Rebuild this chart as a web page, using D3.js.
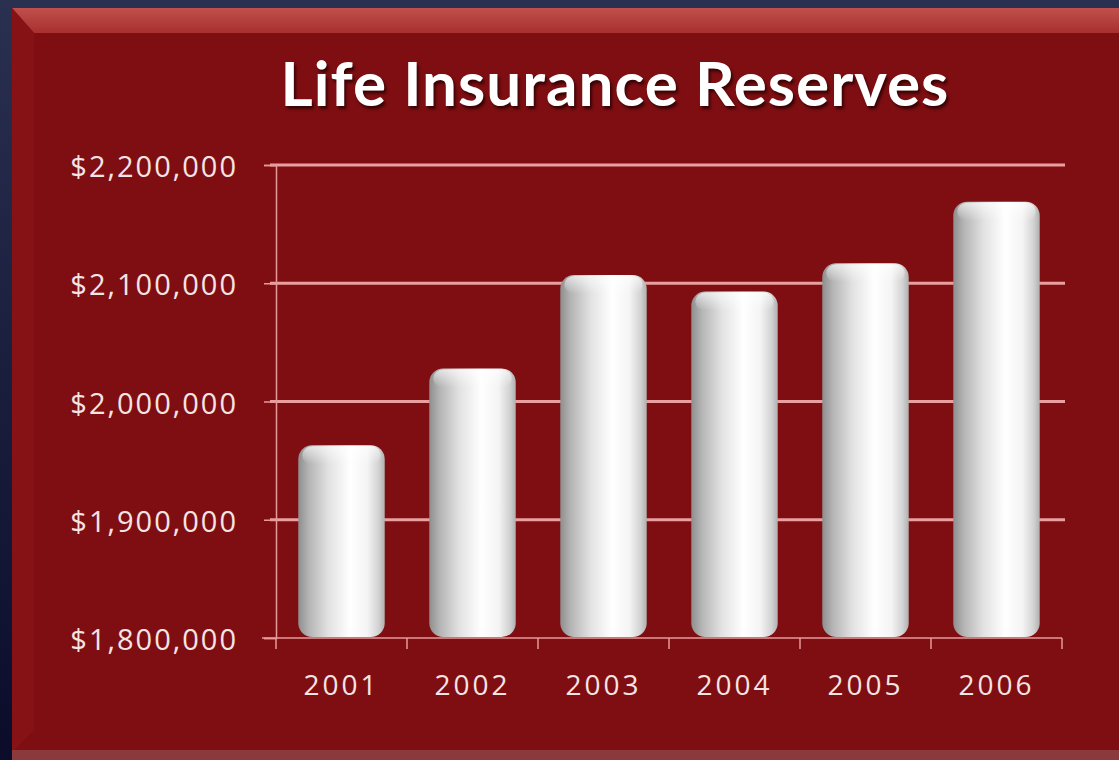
<!DOCTYPE html>
<html><head><meta charset="utf-8">
<script src="https://cdn.jsdelivr.net/npm/d3@7"></script>
<style>html,body{margin:0;padding:0;background:#1b2140;overflow:hidden}</style>
</head><body>
<svg id="c" width="1119" height="760"></svg>
<script>
const title = "Life Insurance Reserves";
const years = ["2001","2002","2003","2004","2005","2006"];
const reserves = [1963000, 2028000, 2107000, 2093000, 2117000, 2169000];
const yTicks = [1800000, 1900000, 2000000, 2100000, 2200000];

const svg = d3.select("#c");
const W = 1119, H = 760;
const defs = svg.append("defs");

// background
const bg = defs.append("linearGradient").attr("id","bgG").attr("x1",0).attr("y1",0).attr("x2",0).attr("y2",1);
bg.append("stop").attr("offset",0).attr("stop-color","#2a3050");
bg.append("stop").attr("offset",1).attr("stop-color","#0a0c2a");
svg.append("rect").attr("width",W).attr("height",H).attr("fill","url(#bgG)");

// panel
svg.append("rect").attr("x",12).attr("y",8).attr("width",W).attr("height",744).attr("fill","#7e0e12");
const topG = defs.append("linearGradient").attr("id","topG").attr("x1",0).attr("y1",0).attr("x2",0).attr("y2",1);
topG.append("stop").attr("offset",0).attr("stop-color","#c0504c");
topG.append("stop").attr("offset",1).attr("stop-color","#a8302e");
svg.append("path").attr("d",`M12,8 L${W},8 L${W},33 L34,33 Z`).attr("fill","url(#topG)");
svg.append("path").attr("d",`M12,8 L34,33 L34,730 L12,752 Z`).attr("fill","#861216");
svg.append("rect").attr("x",12).attr("y",750).attr("width",W).attr("height",10).attr("fill","#8a3a3c");

const margin = {left:276, right:1062, top:165, bottom:638};
const x = d3.scaleBand().domain(years).range([margin.left, margin.right]).paddingInner(0.34).paddingOuter(0.17);
const y = d3.scaleLinear().domain([1800000, 2200000]).range([margin.bottom, margin.top]);
const FONT = "'Open Sans', 'Noto Sans', sans-serif";

// title
svg.append("text").attr("x",615).attr("y",106).attr("text-anchor","middle")
  .attr("font-family","Lato, 'Open Sans', sans-serif").attr("font-weight","bold").attr("font-size",62)
  .attr("letter-spacing",1)
  .attr("fill","#ffffff").style("text-shadow","2px 3px 3px rgba(40,0,0,0.8)").text(title);

// gridlines
const grid = svg.append("g");
grid.selectAll("line").data(yTicks.slice(1)).join("line")
  .attr("x1", 270).attr("x2", 1065)
  .attr("y1", d=>y(d)).attr("y2", d=>y(d))
  .attr("stroke","#eaa0a0").attr("stroke-width",3);

// y axis
const yAxis = d3.axisLeft(y).tickValues(yTicks).tickSize(12).tickPadding(26)
  .tickFormat(d => "$" + d3.format(",")(d));
const gy = svg.append("g").attr("transform",`translate(${margin.left},0)`).call(yAxis);
gy.select(".domain").attr("stroke","#e89a9a").attr("stroke-width",1.5);
gy.selectAll(".tick line").attr("stroke","#e89a9a").attr("stroke-width",1.5);
gy.selectAll(".tick text").attr("fill","#f4e4e4").attr("font-size",29).attr("letter-spacing",2)
  .attr("dy","0.4em").attr("font-family",FONT);

// bar gradient
const bgrad = defs.append("linearGradient").attr("id","barG").attr("x1",0).attr("x2",1).attr("y1",0).attr("y2",0);
[[0,"#8e8e8e"],[0.12,"#b4b4b4"],[0.35,"#e2e2e2"],[0.6,"#ffffff"],[0.8,"#f4f4f4"],[0.93,"#d2d2d2"],[1,"#b0b0b0"]]
  .forEach(([o,c]) => bgrad.append("stop").attr("offset",o).attr("stop-color",c));
const capG = defs.append("linearGradient").attr("id","capG").attr("x1",0).attr("x2",0).attr("y1",0).attr("y2",1);
capG.append("stop").attr("offset",0).attr("stop-color","#ffffff").attr("stop-opacity",0.9);
capG.append("stop").attr("offset",1).attr("stop-color","#ffffff").attr("stop-opacity",0);

const bars = svg.append("g");
const bw = x.bandwidth();
bars.selectAll("rect.bar").data(years).join("rect").attr("class","bar")
  .attr("x", d=>x(d)).attr("width", bw)
  .attr("y", (d,i)=>y(reserves[i])).attr("height",(d,i)=>y(1800000)-y(reserves[i]) - 1)
  .attr("rx",14).attr("ry",14)
  .attr("fill","url(#barG)");
bars.selectAll("rect.cap").data(years).join("rect").attr("class","cap")
  .attr("x", d=>x(d)+4).attr("width", bw-8)
  .attr("y", (d,i)=>y(reserves[i])+1).attr("height",18)
  .attr("rx",10).attr("fill","url(#capG)").attr("opacity",0.7);

// x axis
const xAxis = d3.axisBottom(x).tickSize(0).tickPadding(37);
const gx = svg.append("g").attr("transform",`translate(0,${margin.bottom})`).call(xAxis);
gx.select(".domain").remove();
gx.append("line").attr("x1",262).attr("x2",margin.right).attr("y1",0).attr("y2",0)
  .attr("stroke","#e89a9a").attr("stroke-width",1.5);
const bounds = years.map(d => x(d) - x.step()*x.paddingInner()/2).concat([margin.right]);
gx.selectAll("line.sep").data(bounds).join("line").attr("class","sep")
  .attr("x1",d=>d).attr("x2",d=>d).attr("y1",0).attr("y2",11)
  .attr("stroke","#e89a9a").attr("stroke-width",1.5);
gx.selectAll(".tick text").attr("fill","#f4e4e4").attr("font-size",28).attr("letter-spacing",3)
  .attr("font-family",FONT);
</script>
</body></html>
